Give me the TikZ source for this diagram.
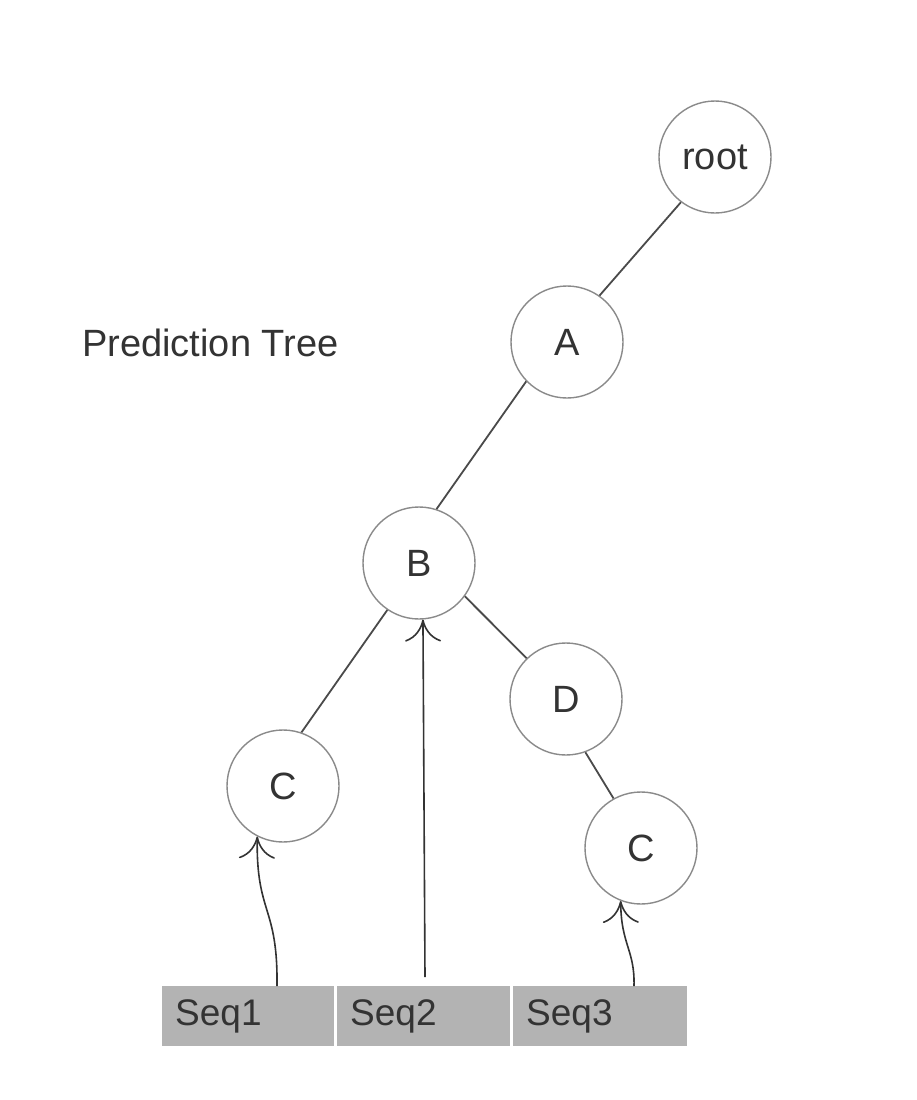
\documentclass[tikz,border=0pt]{standalone}
\usepackage{fontspec}
\setmainfont{Liberation Sans}
\usetikzlibrary{arrows.meta}
\definecolor{txt}{HTML}{333333}
\definecolor{ring}{HTML}{8A8A8A}
\definecolor{edge}{HTML}{4A4A4A}
\definecolor{cellfill}{HTML}{B3B3B3}
\tikzset{
  treenode/.style={circle, draw=ring, line width=1.4pt, fill=white, minimum size=112pt, inner sep=0pt, text=txt, font=\fontsize{38}{40}\selectfont},
  treeedge/.style={draw=edge, line width=1.8pt},
  seqarrow/.style={draw=txt, line width=1.6pt, -{To[length=22pt,width=36pt,line width=1.6pt]}},
  cell/.style={rectangle, fill=cellfill, draw=none, minimum width=172pt, minimum height=60pt, inner sep=0pt, anchor=north west},
  celltext/.style={anchor=base west, inner sep=0pt, text=txt, font=\fontsize{37}{40}\selectfont},
  titletext/.style={anchor=base west, inner sep=0pt, text=txt, font=\fontsize{38}{40}\selectfont}
}
\begin{document}
\begin{tikzpicture}[x=1pt,y=-1pt]
\useasboundingbox[fill=white] (0,0) rectangle (916,1100);
% title
\node[titletext] (title) at (82,356) {Prediction Tree};
% tree nodes
\node[treenode] (root) at (715,157) {root};
\node[treenode] (A) at (567,342) {A};
\node[treenode] (B) at (419,563) {B};
\node[treenode] (D) at (566,699) {D};
\node[treenode] (C1) at (283,786) {C};
\node[treenode] (C2) at (641,848) {C};
% tree edges
\draw[treeedge] (root.233) -- (A.55);
\draw[treeedge] (A.224) -- (B.72);
\draw[treeedge] (B.236) -- (C1.71);
\draw[treeedge] (B.324) -- (D.134);
\draw[treeedge] (D.290) -- (C2.119);
% sequence bar
\node[cell] (cell1) at (162,986) {};
\node[cell, minimum width=173pt] (cell2) at (337,986) {};
\node[cell, minimum width=174pt] (cell3) at (513,986) {};
\node[celltext] (seq1) at (175,1025) {Seq1};
\node[celltext] (seq2) at (350,1025) {Seq2};
\node[celltext] (seq3) at (526,1025) {Seq3};
% arrow start points
\coordinate (s1) at (277,986);
\coordinate (s2) at (425,977);
\coordinate (s3) at (634,986);
% arrows
\draw[seqarrow] (s1) .. controls (278,905) and (256,915) .. (C1.243);
\draw[seqarrow] (s2) -- (B.274);
\draw[seqarrow] (s3) .. controls (635,950) and (621,945) .. (C2.249);
\end{tikzpicture}
\end{document}
